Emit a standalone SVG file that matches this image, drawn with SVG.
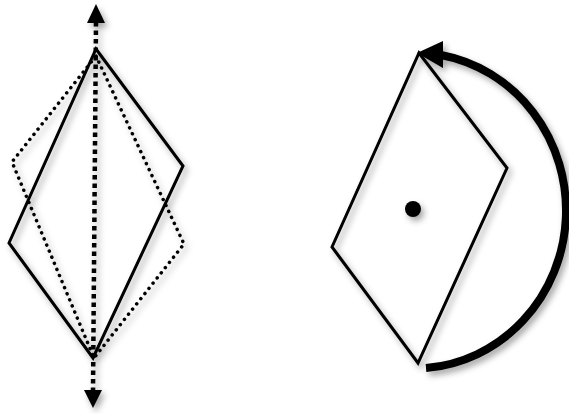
<svg xmlns="http://www.w3.org/2000/svg" width="569" height="414" viewBox="0 0 569 414">
<defs>
<filter id="sh" x="-20%" y="-20%" width="150%" height="150%">
<feDropShadow dx="3" dy="4" stdDeviation="3" flood-color="#000" flood-opacity="0.35"/>
</filter>
</defs>
<style>
.solid{fill:none;stroke:#000;stroke-width:3;stroke-linejoin:miter}
.dot{fill:none;stroke:#000;stroke-width:3.5;stroke-dasharray:0.1 6.5;stroke-linecap:round;stroke-linejoin:round}
.axis{fill:none;stroke:#000;stroke-width:4.5;stroke-dasharray:4.5 4}
</style>
<rect width="569" height="414" fill="#fff"/>
<g id="left" filter="url(#sh)">
<g id="dotted-diamond"><polygon class="dot" points="96,56 184,244 94,358 12,162"/></g>
<g id="solid-diamond"><polygon class="solid" points="96,49 183,166 93,358 9,243"/></g>
<g id="axis">
<line class="axis" x1="96" y1="22" x2="93" y2="391"/>
<polygon points="96,4 105,23 87,23" fill="#000"/>
<polygon points="93,408 102,390 84,390" fill="#000"/>
</g>
</g>
<g id="right" filter="url(#sh)">
<g id="rhombus"><polygon class="solid" points="419,53 507,168 418,363 332,247"/></g>
<g id="center"><circle cx="413" cy="209" r="8" fill="#000"/></g>
<g id="rotation-arrow">
<path d="M426,368 A152,158 0 0 0 441,55" fill="none" stroke="#000" stroke-width="8"/>
<polygon points="417,53 443,41 443,68" fill="#000"/>
</g>
</g>
</svg>
